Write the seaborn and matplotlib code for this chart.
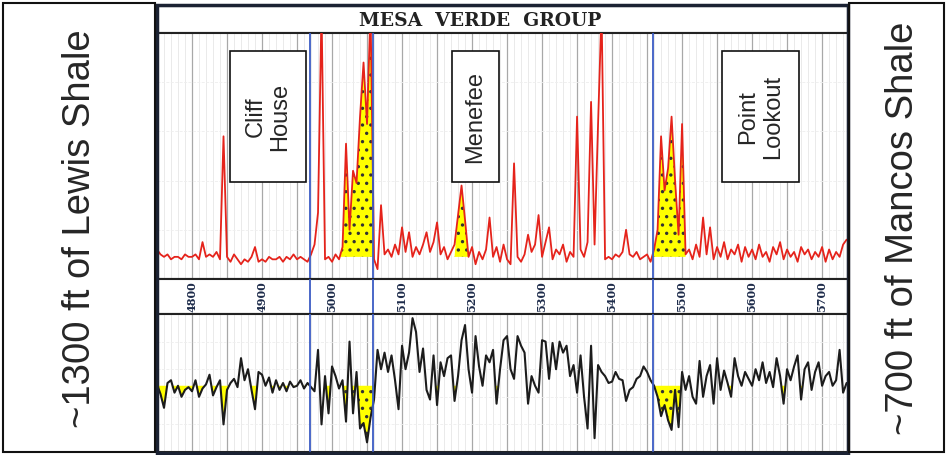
import matplotlib
matplotlib.use("Agg")
import matplotlib.pyplot as plt
import seaborn as sns
import numpy as np
import pandas as pd
from matplotlib.patches import Rectangle
from matplotlib.transforms import blended_transform_factory

# depth samples every 5 ft
depth = list(range(4750, 5740, 5))

# gamma ray style curve (top track, % of track width)
gr = [
    12, 10, 9, 10, 8, 9, 9, 8, 10, 9,
    9, 10, 8, 15, 9, 10, 9, 11, 8, 58,
    9, 7, 10, 8, 6, 8, 7, 9, 13, 7,
    8, 7, 9, 8, 8, 9, 7, 9, 8, 10,
    8, 9, 8, 7, 10, 14, 27, 110, 8, 9,
    7, 10, 8, 13, 55, 20, 44, 39, 66, 88,
    63, 110, 8, 4, 30, 10, 12, 9, 14, 10,
    21, 11, 19, 9, 13, 10, 14, 19, 11, 15,
    23, 10, 13, 8, 11, 14, 26, 38, 24, 9,
    13, 6, 11, 8, 12, 25, 9, 13, 7, 14,
    8, 6, 47, 9, 7, 10, 18, 11, 14, 26,
    9, 15, 21, 8, 12, 10, 14, 7, 11, 9,
    66, 12, 9, 15, 72, 14, 63, 110, 8, 9,
    8, 10, 9, 11, 20, 10, 9, 11, 8, 9,
    10, 7, 12, 20, 58, 36, 45, 66, 40, 18,
    63, 10, 12, 8, 14, 9, 25, 10, 21, 8,
    13, 9, 15, 8, 12, 10, 14, 7, 13, 9,
    12, 8, 14, 9, 11, 7, 13, 10, 15, 8,
    12, 9, 11, 7, 13, 10, 12, 8, 11, 9,
    13, 7, 12, 8, 11, 9, 14, 16,
]

# resistivity style curve (bottom track, % of track width)
res = [
    49, 42, 32, 50, 52, 43, 48, 40, 45, 47,
    44, 52, 40, 46, 49, 56, 41, 47, 52, 20,
    45, 50, 53, 47, 68, 52, 60, 45, 31, 58,
    56, 48, 54, 43, 52, 45, 50, 44, 51, 47,
    48, 52, 46, 50, 47, 44, 74, 20, 55, 28,
    62, 55, 46, 52, 22, 80, 28, 58, 17, 21,
    7, 25, 38, 74, 60, 72, 58, 70, 52, 31,
    77, 60, 72, 97, 87, 58, 75, 45, 38, 70,
    34, 65, 55, 68, 70, 37, 55, 81, 92, 60,
    43, 84, 62, 48, 70, 65, 74, 35, 60, 81,
    84, 60, 53, 84, 77, 72, 35, 55, 48, 43,
    81, 80, 53, 79, 60, 80, 72, 77, 55, 63,
    43, 70, 40, 17, 77, 10, 63, 58, 55, 50,
    51, 58, 53, 52, 37, 45, 47, 53, 55, 62,
    58, 52, 48, 40, 26, 34, 23, 16, 45, 18,
    58, 45, 55, 40, 35, 66, 40, 55, 63, 35,
    68, 45, 59, 50, 40, 68, 55, 48, 58, 53,
    48, 60, 52, 65, 50, 58, 47, 68, 55, 35,
    60, 52, 62, 70, 38, 60, 65, 45, 58, 65,
    48, 55, 58, 48, 52, 74, 43, 50,
]

depth_labels = [4800, 4900, 5000, 5100, 5200, 5300, 5400, 5500, 5600, 5700]
formation_tops = [4969, 5059, 5459]

units = ["Cliff\nHouse", "Menefee", "Point\nLookout"]
unit_left = [4854, 5171, 5557]
unit_right = [4963, 5239, 5667]

# sand shading intervals
gr_sands = [(5015, 5058), (5178, 5190), (5460, 5502)]
res_sands = [(4750, 4965), (4995, 5058), (5145, 5180), (5230, 5240),
             (5455, 5500), (5560, 5700)]
gr_cut = 9
res_cut = 48

df = pd.DataFrame({"depth": depth, "gr": gr, "res": res})

sns.set_style("white")
plt.rcParams["font.family"] = ["Liberation Sans", "DejaVu Sans"]
plt.rcParams["hatch.linewidth"] = 1.2

W, H = 946, 455
fig = plt.figure(figsize=(W / 100, H / 100), dpi=100)


def box(x0, y0, x1, y1):
    return [x0 / W, 1 - y1 / H, (x1 - x0) / W, (y1 - y0) / H]


xmin, xmax = 4750, 5737
ax_tit = fig.add_axes(box(157, 6, 848, 33))
ax_top = fig.add_axes(box(157, 33, 848, 279))
ax_dep = fig.add_axes(box(157, 279, 848, 314))
ax_bot = fig.add_axes(box(157, 314, 848, 452))

for ax in (ax_tit, ax_top, ax_dep, ax_bot):
    ax.set_xlim(xmin, xmax)
    ax.set_xticks([])
    ax.set_yticks([])
    ax.set_xlabel("")
    ax.set_ylabel("")
    for s in ax.spines.values():
        s.set_color("#222222")
        s.set_linewidth(1.5)

ax_tit.text(0.468, 0.45, "MESA  VERDE  GROUP", transform=ax_tit.transAxes,
            ha="center", va="center", fontsize=13.5, fontweight="bold",
            family="DejaVu Serif", color="#222222")

# grid in log tracks
for ax in (ax_top, ax_bot):
    ax.set_ylim(0, 100)
    ax.set_xticks(np.arange(4750, 5740, 50))
    ax.set_xticks(np.arange(4750, 5740, 10), minor=True)
    ax.set_yticks([20, 40, 60, 80], minor=True)
    ax.grid(which="major", axis="x", color="#a8a8a8", lw=0.9)
    ax.grid(which="minor", axis="x", color="#e6e6e6", lw=0.6)
    ax.grid(which="minor", axis="y", color="#eeeeee", lw=0.6, ls="--")
    ax.tick_params(which="both", length=0, labelbottom=False, labelleft=False)

# top track curve
dep = np.array(depth)
gr_a = np.array(gr, dtype=float)
mask = np.zeros(len(dep), bool)
for a, b in gr_sands:
    mask |= (dep >= a) & (dep <= b)
ax_top.fill_between(dep, gr_cut, gr_a, where=mask & (gr_a > gr_cut),
                    facecolor="#ffff00", edgecolor="#333333", hatch="..",
                    lw=0, interpolate=True, zorder=2)
sns.lineplot(data=df, x="depth", y="gr", ax=ax_top, color="#e5231b",
             lw=1.3, sort=False, zorder=3)

# bottom track curve
res_a = np.array(res, dtype=float)
mask2 = np.zeros(len(dep), bool)
for a, b in res_sands:
    mask2 |= (dep >= a) & (dep <= b)
ax_bot.fill_between(dep, res_cut, res_a, where=mask2 & (res_a < res_cut),
                    facecolor="#ffff00", lw=0, interpolate=True, zorder=2)
for a, b in [gr_sands[0], gr_sands[2]]:
    m = (dep >= a) & (dep <= b)
    ax_bot.fill_between(dep, res_cut, res_a, where=m & (res_a < res_cut),
                        facecolor="none", edgecolor="#333333", hatch="..",
                        lw=0, interpolate=True, zorder=2)
sns.lineplot(data=df, x="depth", y="res", ax=ax_bot, color="#1c1c1c",
             lw=1.5, sort=False, zorder=3)

for ax in (ax_top, ax_bot):
    ax.set_xlim(xmin, xmax)
    ax.set_ylim(0, 100)
    ax.set_xlabel("")
    ax.set_ylabel("")

# depth labels
trans = blended_transform_factory(ax_dep.transData, ax_dep.transAxes)
for d in depth_labels:
    ax_dep.text(d, 0.5, str(d), transform=trans, rotation=90, ha="center",
                va="center", fontsize=8, fontweight="bold",
                family="DejaVu Serif", color="#1d2b4a")

# formation tops
for ax in (ax_top, ax_dep, ax_bot):
    for d in formation_tops:
        ax.axvline(d, color="#3b5cc4", lw=1.3, zorder=4)

# unit label boxes
for name, a, b in zip(units, unit_left, unit_right):
    ax_top.add_patch(Rectangle((a, 39.5), b - a, 53.3, facecolor="white",
                               edgecolor="#111111", lw=1.2, zorder=5))
    ax_top.text((a + b) / 2, 66, name, rotation=90, ha="center", va="center",
                fontsize=17, zorder=6, multialignment="center",
                linespacing=1.15)

# outer frames and side boxes
fig.patches.append(Rectangle((157 / W, 1 - 453 / H), 691 / W, 448 / H,
                             transform=fig.transFigure, fill=False,
                             edgecolor="#1b2233", lw=2.5))
fig.patches.append(Rectangle((3 / W, 1 - 452 / H), 152 / W, 449 / H,
                             transform=fig.transFigure, fill=False,
                             edgecolor="#111111", lw=1.5))
fig.patches.append(Rectangle((849 / W, 1 - 452 / H), 95 / W, 449 / H,
                             transform=fig.transFigure, fill=False,
                             edgecolor="#111111", lw=1.5))
fig.text(80 / W, 1 - 229 / H, "~1300 ft of Lewis Shale", rotation=90,
         ha="center", va="center", fontsize=27.5)
fig.text(903 / W, 1 - 228 / H, "~700 ft of Mancos Shale", rotation=90,
         ha="center", va="center", fontsize=27.5)

fig.savefig("out.png", dpi=100)
